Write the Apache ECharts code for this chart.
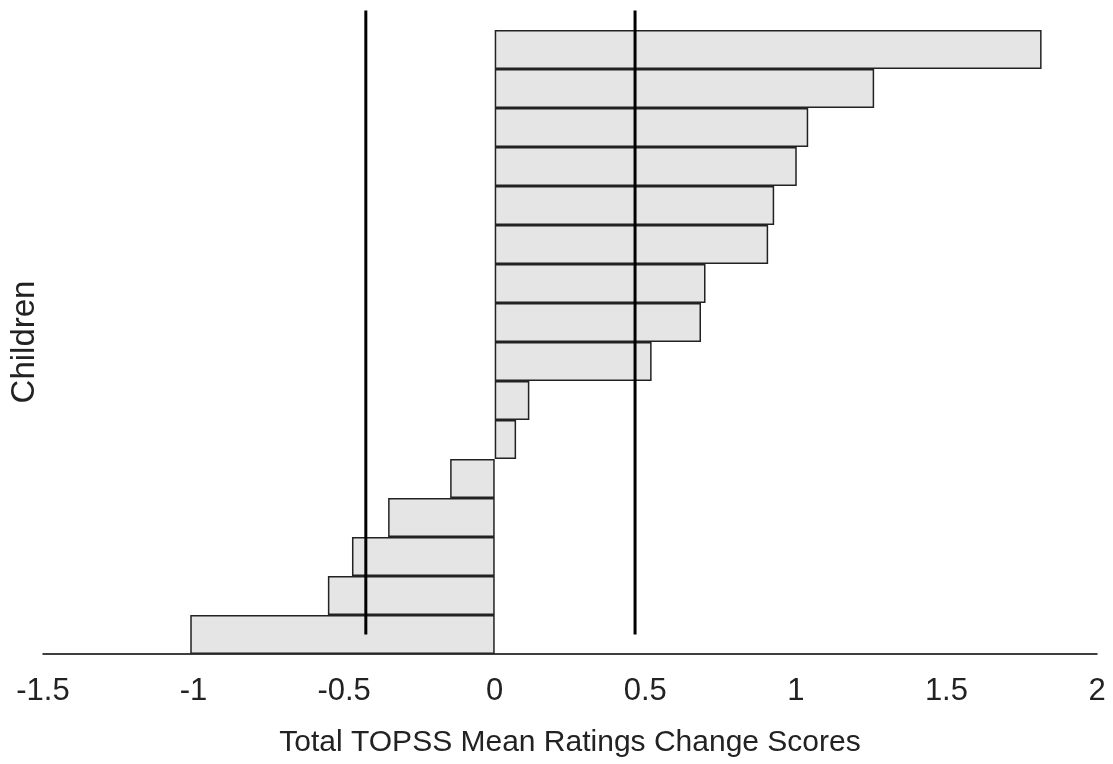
<!DOCTYPE html>
<html>
<head>
<meta charset="utf-8">
<script src="https://cdn.jsdelivr.net/npm/echarts@6/dist/echarts.min.js"></script>
<style>
html,body{margin:0;padding:0;background:#fff;}
#c{width:1113px;height:764px;}
</style>
</head>
<body>
<div id="c"></div>
<script>
// Data
const children = ['C1','C2','C3','C4','C5','C6','C7','C8','C9','C10','C11','C12','C13','C14','C15','C16'];
const changeScores = [1.816, 1.260, 1.041, 1.003, 0.928, 0.908, 0.700, 0.685, 0.521, 0.115, 0.071, -0.148, -0.354, -0.474, -0.554, -1.011];
const refLines = [-0.428, 0.466];
const refLineSpan = [1, 17]; // in category units, bottom category = 1
const xMin = -1.5, xMax = 2, xStep = 0.5;

const chart = echarts.init(document.getElementById('c'));
const FONT = '"Liberation Sans", Arial, sans-serif';

const lineSeries = refLines.map(v => ({
  type: 'line',
  xAxisIndex: 0,
  yAxisIndex: 1,
  data: [[v, refLineSpan[0]], [v, refLineSpan[1]]],
  symbol: 'none',
  clip: false,
  lineStyle: {color: '#000', width: 3},
  z: 5,
  silent: true
}));

chart.setOption({
  animation: false,
  backgroundColor: '#fff',
  grid: {left: 43, right: 16, top: 30, bottom: 110},
  xAxis: {
    type: 'value', min: xMin, max: xMax, interval: xStep,
    name: 'Total TOPSS Mean Ratings Change Scores',
    nameLocation: 'middle', nameGap: 74,
    nameTextStyle: {fontFamily: FONT, fontSize: 30, color: '#222'},
    axisLine: {show: true, lineStyle: {color: '#000', width: 1.5}},
    axisTick: {show: false},
    splitLine: {show: false},
    axisLabel: {fontFamily: FONT, fontSize: 31, color: '#222', margin: 22}
  },
  yAxis: [{
    type: 'category', data: children, inverse: true,
    name: 'Children', nameLocation: 'middle', nameGap: 2,
    nameTextStyle: {fontFamily: FONT, fontSize: 33, color: '#222'},
    axisLine: {show: false}, axisTick: {show: false}, axisLabel: {show: false},
    splitLine: {show: false}
  }, {
    type: 'value', min: 0.5, max: 16.5, show: false
  }],
  series: [{
    type: 'bar',
    data: changeScores,
    barCategoryGap: 0,
    itemStyle: {color: '#e5e5e5', borderColor: '#222', borderWidth: 1.5},
    z: 2
  }].concat(lineSeries)
});
</script>
</body>
</html>
